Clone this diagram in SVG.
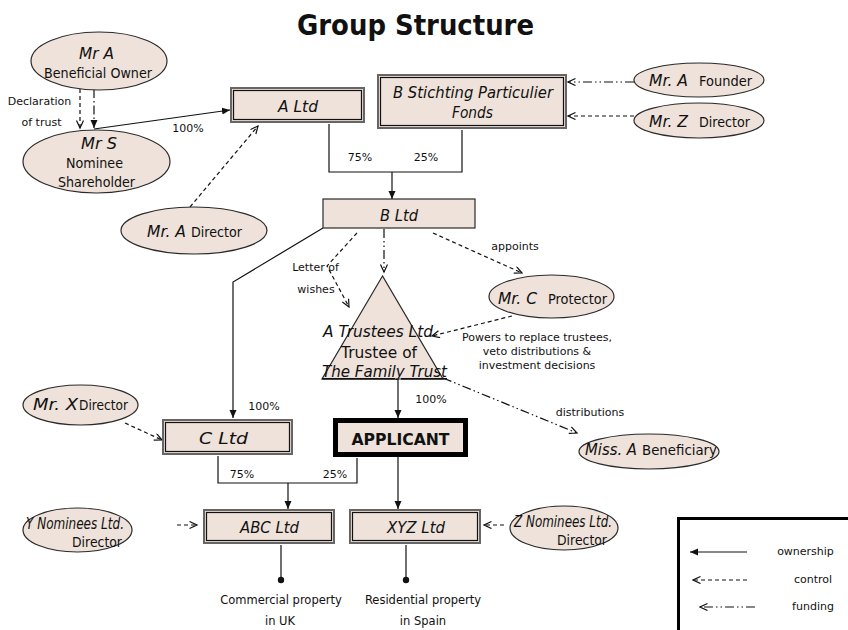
<svg xmlns="http://www.w3.org/2000/svg" width="848" height="630" viewBox="0 0 848 630">
<style>
text{font-family:"DejaVu Sans","Liberation Sans",sans-serif;fill:#111}
.it{font-style:italic;font-size:16px}
.rg{font-size:14px}
.tr{font-size:15.5px}
.lb{font-size:11px;text-anchor:middle}
.pl{font-size:11.5px;text-anchor:middle}
.el{fill:#EEE2DA;stroke:#2a2a2a;stroke-width:1.2}
.bo{fill:#EEE2DA;stroke:#666;stroke-width:2}
.bi{fill:none;stroke:#111;stroke-width:1.2}
.ln{fill:none;stroke:#111;stroke-width:1.2}
.sol{marker-end:url(#fa)}
.ctl{stroke-dasharray:4 3;marker-end:url(#oa)}
.fnd{stroke-dasharray:9 3 1.5 3 1.5 3;marker-end:url(#oa)}
</style>
<defs>
<marker id="fa" markerUnits="userSpaceOnUse" markerWidth="10" markerHeight="8" refX="8" refY="3.5" orient="auto">
<path d="M0,0 L8,3.5 L0,7 z" fill="#111"/>
</marker>
<marker id="oa" markerUnits="userSpaceOnUse" markerWidth="10" markerHeight="9" refX="8.5" refY="4" orient="auto">
<path d="M1,0.5 L8.5,4 L1,7.5" fill="none" stroke="#111" stroke-width="1.2"/>
</marker>
</defs>
<rect width="848" height="630" fill="#fff"/>
<text x="415.5" y="35" text-anchor="middle" font-size="28" font-weight="bold" textLength="237" lengthAdjust="spacingAndGlyphs">Group Structure</text>

<g id="connectors">
<line class="ln ctl" x1="80" y1="89" x2="80" y2="128"/>
<line class="ln" x1="94" y1="89" x2="94" y2="128" stroke-dasharray="9 3 1.5 3" marker-end="url(#fa)"/>
<line class="ln sol" x1="94" y1="129" x2="230" y2="110"/>
<polyline class="ln" points="329,124 329,172 462,172 462,130"/>
<line class="ln sol" x1="392" y1="172" x2="392" y2="199"/>
<line class="ln fnd" x1="634" y1="82" x2="568" y2="82"/>
<line class="ln ctl" x1="634" y1="116" x2="568" y2="116"/>
<line class="ln ctl" x1="190" y1="207" x2="258" y2="126"/>
<polyline class="ln sol" points="323,228 233,282 233,418"/>
<line class="ln fnd" x1="384" y1="229" x2="384" y2="272"/>
<polyline class="ln ctl" points="357,233 327,266 349,307"/>
<line class="ln ctl" x1="433" y1="233" x2="522" y2="273"/>
<line class="ln ctl" x1="512" y1="316" x2="432" y2="336"/>
<line class="ln sol" x1="398" y1="379" x2="398" y2="418"/>
<line class="ln fnd" x1="443" y1="378" x2="577" y2="433"/>
<line class="ln ctl" x1="125" y1="423" x2="162" y2="440"/>
<polyline class="ln" points="218,456 218,483 357,483 357,458"/>
<line class="ln sol" x1="288" y1="483" x2="288" y2="509"/>
<line class="ln sol" x1="398" y1="457" x2="398" y2="509"/>
<line class="ln ctl" x1="177" y1="525" x2="197" y2="525"/>
<line class="ln ctl" x1="504" y1="525" x2="484" y2="525"/>
<line class="ln" x1="281" y1="545" x2="281" y2="580"/>
<circle cx="281" cy="580" r="3.2" fill="#111"/>
<line class="ln" x1="406" y1="545" x2="406" y2="580"/>
<circle cx="406" cy="580" r="3.2" fill="#111"/>
</g>

<g id="mrA-owner">
<ellipse class="el" cx="99" cy="61" rx="68" ry="29"/>
<text class="it" x="79" y="59" textLength="35" lengthAdjust="spacingAndGlyphs">Mr A</text>
<text class="rg" x="44" y="78" textLength="108" lengthAdjust="spacingAndGlyphs">Beneficial Owner</text>
</g>
<g id="lbl-declaration">
<text class="lb" x="39.5" y="105">Declaration</text>
<text class="lb" x="41.5" y="126">of trust</text>
</g>
<g id="mrS">
<ellipse class="el" cx="96.5" cy="161.5" rx="73.5" ry="31.5"/>
<text class="it" x="81" y="149" textLength="36" lengthAdjust="spacingAndGlyphs">Mr S</text>
<text class="rg" x="66" y="168" textLength="57" lengthAdjust="spacingAndGlyphs">Nominee</text>
<text class="rg" x="58" y="186.5" textLength="77" lengthAdjust="spacingAndGlyphs">Shareholder</text>
</g>
<text class="lb" x="188" y="132">100%</text>

<g id="aLtd">
<rect class="bo" x="231" y="88" width="133" height="34"/>
<rect class="bi" x="233.5" y="90.5" width="128" height="29"/>
<text class="it" x="278" y="112" textLength="40" lengthAdjust="spacingAndGlyphs">A Ltd</text>
</g>
<g id="bStichting">
<rect class="bo" x="378" y="75" width="188" height="53"/>
<rect class="bi" x="380.5" y="77.5" width="183" height="48"/>
<text class="it" x="393" y="98" textLength="160" lengthAdjust="spacingAndGlyphs">B Stichting Particulier</text>
<text class="it" x="452" y="118" textLength="41" lengthAdjust="spacingAndGlyphs">Fonds</text>
</g>
<text class="lb" x="360" y="161">75%</text>
<text class="lb" x="426" y="161">25%</text>

<g id="mrA-founder">
<ellipse class="el" cx="699" cy="80" rx="65" ry="17"/>
<text class="it" x="649" y="86" textLength="39" lengthAdjust="spacingAndGlyphs">Mr. A</text>
<text class="rg" x="699" y="86" textLength="53" lengthAdjust="spacingAndGlyphs">Founder</text>
</g>
<g id="mrZ-director">
<ellipse class="el" cx="699" cy="120.5" rx="65" ry="17.5"/>
<text class="it" x="649" y="127" textLength="39" lengthAdjust="spacingAndGlyphs">Mr. Z</text>
<text class="rg" x="699" y="127" textLength="51" lengthAdjust="spacingAndGlyphs">Director</text>
</g>

<g id="bLtd">
<rect x="323" y="199" width="152" height="29" fill="#EEE2DA" stroke="#2a2a2a" stroke-width="1.2"/>
<text class="it" x="380" y="221" textLength="38" lengthAdjust="spacingAndGlyphs">B Ltd</text>
</g>
<g id="mrA-director">
<ellipse class="el" cx="194" cy="230.5" rx="73" ry="23.5"/>
<text class="it" x="147" y="237" textLength="39" lengthAdjust="spacingAndGlyphs">Mr. A</text>
<text class="rg" x="191" y="237" textLength="51" lengthAdjust="spacingAndGlyphs">Director</text>
</g>
<g id="lbl-letter">
<text class="lb" x="315.5" y="271">Letter of</text>
<text class="lb" x="316" y="293">wishes</text>
</g>
<text class="lb" x="515" y="250">appoints</text>

<g id="mrC">
<ellipse class="el" cx="551.5" cy="296.5" rx="62.5" ry="21.5"/>
<text class="it" x="498" y="304" textLength="39" lengthAdjust="spacingAndGlyphs">Mr. C</text>
<text class="rg" x="548" y="304" textLength="59" lengthAdjust="spacingAndGlyphs">Protector</text>
</g>
<g id="lbl-powers">
<text class="lb" x="537" y="341">Powers to replace trustees,</text>
<text class="lb" x="537" y="355">veto distributions &amp;</text>
<text class="lb" x="537" y="369">investment decisions</text>
</g>

<g id="trustee">
<polygon points="382.5,276 322,379 443,379" fill="#EEE2DA" stroke="#2a2a2a" stroke-width="1.2"/>
<text class="it" x="323" y="337" textLength="110" lengthAdjust="spacingAndGlyphs">A Trustees Ltd</text>
<text class="tr" x="341" y="357.5" textLength="76" lengthAdjust="spacingAndGlyphs">Trustee of</text>
<text class="it" x="322" y="377" textLength="125" lengthAdjust="spacingAndGlyphs" text-decoration="underline">The Family Trust</text>
</g>
<text class="lb" x="264" y="410">100%</text>
<text class="lb" x="431" y="403">100%</text>
<text class="lb" x="590" y="416">distributions</text>

<g id="mrX">
<ellipse class="el" cx="80.5" cy="405" rx="57.5" ry="20"/>
<text class="it" x="33" y="410" textLength="45" lengthAdjust="spacingAndGlyphs">Mr. X</text>
<text class="rg" x="79" y="410" textLength="49" lengthAdjust="spacingAndGlyphs">Director</text>
</g>
<g id="cLtd">
<rect class="bo" x="163" y="420" width="129" height="34"/>
<rect class="bi" x="165.5" y="422.5" width="124" height="29"/>
<text class="it" x="199" y="444" textLength="49" lengthAdjust="spacingAndGlyphs">C Ltd</text>
</g>
<g id="applicant">
<rect x="335.5" y="420.5" width="130" height="34" fill="#EEE2DA" stroke="#000" stroke-width="5"/>
<text x="400.5" y="445" text-anchor="middle" font-size="16.5" font-weight="bold" textLength="98" lengthAdjust="spacingAndGlyphs">APPLICANT</text>
</g>
<g id="missA">
<ellipse class="el" cx="649" cy="451.5" rx="70" ry="17.5"/>
<text class="it" x="585" y="455" textLength="52" lengthAdjust="spacingAndGlyphs">Miss. A</text>
<text class="rg" x="642" y="455" textLength="75" lengthAdjust="spacingAndGlyphs">Beneficiary</text>
</g>
<text class="lb" x="242" y="478">75%</text>
<text class="lb" x="335" y="478">25%</text>

<g id="yNominees">
<ellipse class="el" cx="77.5" cy="530" rx="54.5" ry="22"/>
<text class="it" x="26" y="529" font-size="14" textLength="98" lengthAdjust="spacingAndGlyphs">Y Nominees Ltd.</text>
<text class="rg" x="72" y="547" font-size="13.5" textLength="50" lengthAdjust="spacingAndGlyphs">Director</text>
</g>
<g id="abcLtd">
<rect class="bo" x="204" y="510" width="130" height="33"/>
<rect class="bi" x="206.5" y="512.5" width="125" height="28"/>
<text class="it" x="240" y="533" textLength="59" lengthAdjust="spacingAndGlyphs">ABC Ltd</text>
</g>
<g id="xyzLtd">
<rect class="bo" x="350" y="510" width="130" height="33"/>
<rect class="bi" x="352.5" y="512.5" width="125" height="28"/>
<text class="it" x="387" y="533" textLength="58" lengthAdjust="spacingAndGlyphs">XYZ Ltd</text>
</g>
<g id="zNominees">
<ellipse class="el" cx="564" cy="528" rx="54" ry="22"/>
<text class="it" x="514" y="527" font-size="14" textLength="98" lengthAdjust="spacingAndGlyphs">Z Nominees Ltd.</text>
<text class="rg" x="557" y="545" font-size="13.5" textLength="50" lengthAdjust="spacingAndGlyphs">Director</text>
</g>
<g id="property-uk">
<text class="pl" x="281" y="604">Commercial property</text>
<text class="pl" x="280" y="625">in UK</text>
</g>
<g id="property-spain">
<text class="pl" x="423" y="604">Residential property</text>
<text class="pl" x="423" y="625">in Spain</text>
</g>

<g id="legend">
<rect x="678.5" y="518.5" width="200" height="150" fill="#fff" stroke="#000" stroke-width="3"/>
<line class="ln sol" x1="747" y1="552" x2="690" y2="552"/>
<line class="ln ctl" x1="747" y1="580" x2="693" y2="580"/>
<line class="ln fnd" x1="755" y1="607" x2="700" y2="607"/>
<text class="lb" x="805.5" y="555">ownership</text>
<text class="lb" x="813" y="583">control</text>
<text class="lb" x="813" y="610">funding</text>
</g>
</svg>
